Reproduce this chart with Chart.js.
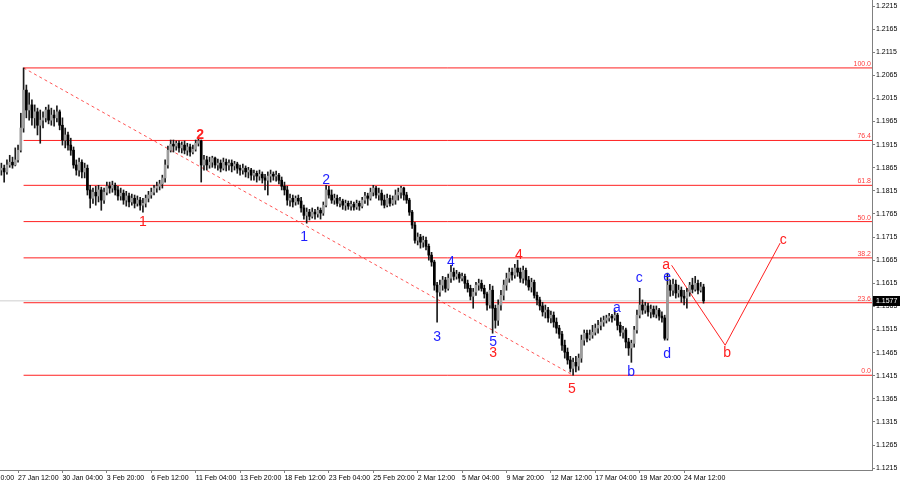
<!DOCTYPE html>
<html>
<head>
<meta charset="utf-8">
<script src="https://cdn.jsdelivr.net/npm/chart.js@4.4.1/dist/chart.umd.min.js"></script>
<style>
  html, body { margin: 0; padding: 0; background: #fff; }
  #wrap { width: 900px; height: 485px; }
</style>
</head>
<body>
<div id="wrap"><canvas id="waves"></canvas></div>
<script>
// H4 candles, one per bar index
const opens = [
  1.1860,1.1864,1.1856,1.1871,1.1877,1.1871,1.1882,1.1903,1.1951,1.2033,
  1.1990,1.2001,1.1973,1.1986,1.1957,1.1968,1.1973,1.1990,1.1968,1.1979,
  1.1973,1.1986,1.1957,1.1925,1.1936,1.1914,1.1903,1.1871,1.1860,1.1877,
  1.1856,1.1864,1.1817,1.1799,1.1812,1.1804,1.1817,1.1795,1.1812,1.1825,
  1.1821,1.1827,1.1817,1.1804,1.1810,1.1795,1.1804,1.1791,1.1799,1.1788,
  1.1795,1.1784,1.1788,1.1799,1.1806,1.1812,1.1821,1.1825,1.1830,1.1843,
  1.1871,1.1903,1.1916,1.1912,1.1918,1.1908,1.1914,1.1903,1.1910,1.1899,
  1.1905,1.1918,1.1923,1.1871,1.1882,1.1871,1.1877,1.1886,1.1871,1.1875,
  1.1864,1.1877,1.1871,1.1875,1.1869,1.1873,1.1864,1.1860,1.1864,1.1856,
  1.1860,1.1849,1.1853,1.1847,1.1851,1.1843,1.1838,1.1847,1.1851,1.1847,
  1.1849,1.1838,1.1825,1.1817,1.1795,1.1799,1.1791,1.1799,1.1793,1.1778,
  1.1762,1.1769,1.1760,1.1769,1.1765,1.1773,1.1767,1.1784,1.1817,1.1806,
  1.1795,1.1799,1.1788,1.1793,1.1784,1.1788,1.1782,1.1786,1.1780,1.1788,
  1.1782,1.1795,1.1804,1.1799,1.1812,1.1821,1.1806,1.1810,1.1795,1.1784,
  1.1799,1.1788,1.1795,1.1806,1.1812,1.1821,1.1806,1.1795,1.1769,1.1741,
  1.1708,1.1715,1.1704,1.1708,1.1695,1.1676,1.1661,1.1611,1.1596,1.1611,
  1.1622,1.1604,1.1626,1.1639,1.1630,1.1635,1.1626,1.1630,1.1615,1.1604,
  1.1587,1.1596,1.1611,1.1615,1.1604,1.1592,1.1568,1.1600,1.1561,1.1535,
  1.1568,1.1589,1.1611,1.1626,1.1639,1.1633,1.1648,1.1639,1.1626,1.1643,
  1.1622,1.1607,1.1617,1.1589,1.1579,1.1566,1.1553,1.1557,1.1540,1.1546,
  1.1531,1.1518,1.1505,1.1481,1.1466,1.1449,1.1431,1.1444,1.1436,1.1453,
  1.1492,1.1507,1.1496,1.1503,1.1509,1.1518,1.1524,1.1531,1.1535,1.1540,
  1.1544,1.1540,1.1546,1.1524,1.1509,1.1514,1.1488,1.1475,1.1485,1.1514,
  1.1546,1.1568,1.1557,1.1566,1.1553,1.1559,1.1548,1.1557,1.1544,1.1540,
  1.1496,1.1611,1.1600,1.1613,1.1594,1.1600,1.1587,1.1583,1.1596,1.1611,
  1.1602,1.1615,1.1600,1.1607
];
const highs = [
  1.1875,1.1871,1.1882,1.1892,1.1888,1.1908,1.1914,1.1983,1.2081,1.2044,
  1.2027,1.2012,1.2001,1.1994,1.1990,1.1986,1.1996,1.2001,1.1994,1.1990,
  1.1999,1.1990,1.1973,1.1951,1.1942,1.1929,1.1910,1.1882,1.1886,1.1882,
  1.1875,1.1871,1.1827,1.1821,1.1825,1.1827,1.1823,1.1821,1.1834,1.1834,
  1.1836,1.1832,1.1825,1.1821,1.1817,1.1814,1.1810,1.1808,1.1806,1.1804,
  1.1801,1.1799,1.1806,1.1814,1.1821,1.1827,1.1834,1.1838,1.1849,1.1882,
  1.1912,1.1925,1.1925,1.1923,1.1923,1.1921,1.1923,1.1918,1.1916,1.1914,
  1.1925,1.1927,1.1925,1.1892,1.1890,1.1888,1.1890,1.1888,1.1884,1.1882,
  1.1886,1.1884,1.1882,1.1882,1.1879,1.1877,1.1871,1.1873,1.1869,1.1866,
  1.1864,1.1860,1.1858,1.1860,1.1856,1.1851,1.1856,1.1860,1.1856,1.1858,
  1.1853,1.1845,1.1834,1.1825,1.1808,1.1806,1.1804,1.1806,1.1801,1.1784,
  1.1778,1.1775,1.1778,1.1775,1.1780,1.1778,1.1791,1.1827,1.1825,1.1817,
  1.1808,1.1806,1.1801,1.1797,1.1795,1.1793,1.1793,1.1791,1.1795,1.1793,
  1.1801,1.1812,1.1810,1.1821,1.1827,1.1825,1.1821,1.1817,1.1806,1.1808,
  1.1806,1.1804,1.1817,1.1821,1.1825,1.1823,1.1812,1.1799,1.1773,1.1747,
  1.1724,1.1721,1.1717,1.1715,1.1700,1.1682,1.1665,1.1617,1.1622,1.1630,
  1.1628,1.1635,1.1654,1.1648,1.1643,1.1639,1.1637,1.1635,1.1622,1.1611,
  1.1604,1.1617,1.1624,1.1622,1.1611,1.1596,1.1613,1.1609,1.1568,1.1579,
  1.1600,1.1622,1.1637,1.1648,1.1648,1.1656,1.1665,1.1648,1.1652,1.1648,
  1.1630,1.1626,1.1622,1.1596,1.1585,1.1574,1.1568,1.1563,1.1555,1.1553,
  1.1540,1.1524,1.1511,1.1492,1.1475,1.1457,1.1453,1.1457,1.1462,1.1503,
  1.1514,1.1514,1.1514,1.1524,1.1527,1.1535,1.1540,1.1544,1.1546,1.1550,
  1.1548,1.1557,1.1550,1.1531,1.1522,1.1518,1.1496,1.1492,1.1522,1.1557,
  1.1604,1.1579,1.1574,1.1572,1.1568,1.1566,1.1566,1.1561,1.1553,1.1546,
  1.1637,1.1622,1.1624,1.1622,1.1611,1.1607,1.1600,1.1604,1.1617,1.1626,
  1.1630,1.1622,1.1617,1.1613
];
const lows = [
  1.1849,1.1834,1.1851,1.1866,1.1864,1.1869,1.1877,1.1899,1.1942,1.1973,
  1.1968,1.1957,1.1951,1.1936,1.1918,1.1951,1.1964,1.1960,1.1957,1.1955,
  1.1964,1.1947,1.1914,1.1908,1.1903,1.1892,1.1864,1.1849,1.1847,1.1843,
  1.1843,1.1806,1.1778,1.1788,1.1784,1.1791,1.1773,1.1788,1.1806,1.1810,
  1.1812,1.1806,1.1795,1.1795,1.1786,1.1782,1.1780,1.1784,1.1778,1.1782,
  1.1773,1.1769,1.1780,1.1791,1.1799,1.1806,1.1812,1.1817,1.1821,1.1834,
  1.1864,1.1899,1.1899,1.1903,1.1899,1.1897,1.1895,1.1892,1.1890,1.1895,
  1.1901,1.1912,1.1834,1.1860,1.1860,1.1864,1.1866,1.1864,1.1860,1.1856,
  1.1860,1.1858,1.1860,1.1856,1.1860,1.1853,1.1849,1.1851,1.1845,1.1843,
  1.1838,1.1838,1.1834,1.1838,1.1832,1.1817,1.1806,1.1834,1.1838,1.1836,
  1.1830,1.1817,1.1806,1.1784,1.1782,1.1780,1.1784,1.1786,1.1769,1.1754,
  1.1745,1.1752,1.1756,1.1754,1.1758,1.1754,1.1762,1.1780,1.1799,1.1788,
  1.1786,1.1782,1.1780,1.1775,1.1773,1.1775,1.1773,1.1773,1.1775,1.1773,
  1.1778,1.1788,1.1784,1.1795,1.1804,1.1799,1.1795,1.1784,1.1778,1.1780,
  1.1782,1.1784,1.1786,1.1795,1.1799,1.1795,1.1788,1.1762,1.1734,1.1702,
  1.1698,1.1691,1.1693,1.1687,1.1665,1.1652,1.1600,1.1531,1.1587,1.1600,
  1.1596,1.1600,1.1617,1.1622,1.1624,1.1617,1.1620,1.1604,1.1596,1.1579,
  1.1561,1.1589,1.1600,1.1598,1.1583,1.1557,1.1561,1.1507,1.1518,1.1524,
  1.1557,1.1579,1.1600,1.1617,1.1622,1.1626,1.1630,1.1617,1.1615,1.1611,
  1.1600,1.1596,1.1583,1.1568,1.1557,1.1544,1.1540,1.1531,1.1529,1.1520,
  1.1507,1.1496,1.1470,1.1453,1.1440,1.1423,1.1416,1.1423,1.1427,1.1444,
  1.1481,1.1488,1.1492,1.1496,1.1503,1.1507,1.1514,1.1522,1.1529,1.1533,
  1.1531,1.1535,1.1514,1.1501,1.1496,1.1475,1.1459,1.1444,1.1477,1.1507,
  1.1540,1.1548,1.1550,1.1544,1.1540,1.1542,1.1540,1.1535,1.1531,1.1492,
  1.1492,1.1587,1.1589,1.1583,1.1585,1.1574,1.1568,1.1561,1.1587,1.1594,
  1.1598,1.1592,1.1596,1.1572
];
const closes = [
  1.1864,1.1856,1.1871,1.1877,1.1871,1.1882,1.1903,1.1951,1.2033,1.1990,
  1.2001,1.1973,1.1986,1.1957,1.1968,1.1973,1.1990,1.1968,1.1979,1.1973,
  1.1986,1.1957,1.1925,1.1936,1.1914,1.1903,1.1871,1.1860,1.1877,1.1856,
  1.1864,1.1817,1.1799,1.1812,1.1804,1.1817,1.1795,1.1812,1.1825,1.1821,
  1.1827,1.1817,1.1804,1.1810,1.1795,1.1804,1.1791,1.1799,1.1788,1.1795,
  1.1784,1.1788,1.1799,1.1806,1.1812,1.1821,1.1825,1.1830,1.1843,1.1871,
  1.1903,1.1916,1.1912,1.1918,1.1908,1.1914,1.1903,1.1910,1.1899,1.1905,
  1.1918,1.1923,1.1871,1.1882,1.1871,1.1877,1.1886,1.1871,1.1875,1.1864,
  1.1877,1.1871,1.1875,1.1869,1.1873,1.1864,1.1860,1.1864,1.1856,1.1860,
  1.1849,1.1853,1.1847,1.1851,1.1843,1.1838,1.1847,1.1851,1.1847,1.1849,
  1.1838,1.1825,1.1817,1.1795,1.1799,1.1791,1.1799,1.1793,1.1778,1.1762,
  1.1769,1.1760,1.1769,1.1765,1.1773,1.1767,1.1784,1.1817,1.1806,1.1795,
  1.1799,1.1788,1.1793,1.1784,1.1788,1.1782,1.1786,1.1780,1.1788,1.1782,
  1.1795,1.1804,1.1799,1.1812,1.1821,1.1806,1.1810,1.1795,1.1784,1.1799,
  1.1788,1.1795,1.1806,1.1812,1.1821,1.1806,1.1795,1.1769,1.1741,1.1708,
  1.1715,1.1704,1.1708,1.1695,1.1676,1.1661,1.1611,1.1596,1.1611,1.1622,
  1.1604,1.1626,1.1639,1.1630,1.1635,1.1626,1.1630,1.1615,1.1604,1.1587,
  1.1596,1.1611,1.1615,1.1604,1.1592,1.1568,1.1600,1.1561,1.1535,1.1568,
  1.1589,1.1611,1.1626,1.1639,1.1633,1.1648,1.1639,1.1626,1.1643,1.1622,
  1.1607,1.1617,1.1589,1.1579,1.1566,1.1553,1.1557,1.1540,1.1546,1.1531,
  1.1518,1.1505,1.1481,1.1466,1.1449,1.1431,1.1444,1.1436,1.1453,1.1492,
  1.1507,1.1496,1.1503,1.1509,1.1518,1.1524,1.1531,1.1535,1.1540,1.1544,
  1.1540,1.1546,1.1524,1.1509,1.1514,1.1488,1.1475,1.1485,1.1514,1.1546,
  1.1568,1.1557,1.1566,1.1553,1.1559,1.1548,1.1557,1.1544,1.1540,1.1496,
  1.1611,1.1600,1.1613,1.1594,1.1600,1.1587,1.1583,1.1596,1.1611,1.1602,
  1.1615,1.1600,1.1607,1.1577
];

// time axis labels (bar index -> label)
const tickBars = [-10, 6, 22, 38, 54, 70, 86, 102, 118, 134, 150, 166, 182, 198, 214, 230, 246];
const tickLabels = ['22 Jan 20:00', '27 Jan 12:00', '30 Jan 04:00', '3 Feb 20:00', '6 Feb 12:00',
  '11 Feb 04:00', '13 Feb 20:00', '18 Feb 12:00', '23 Feb 04:00', '25 Feb 20:00', '2 Mar 12:00',
  '5 Mar 04:00', '9 Mar 20:00', '12 Mar 12:00', '17 Mar 04:00', '19 Mar 20:00', '24 Mar 12:00'];
const priceTicks = [1.1215, 1.1265, 1.1315, 1.1365, 1.1415, 1.1465, 1.1515, 1.1565, 1.1615, 1.1665,
  1.1715, 1.1765, 1.1815, 1.1865, 1.1915, 1.1965, 1.2015, 1.2065, 1.2115, 1.2165, 1.2215];

// fibonacci grid between the January high and the March low
const fibRatios = [0, 23.6, 38.2, 50, 61.8, 76.4, 100];
const fibHighBar = 8, fibHigh = 1.2081;
const fibLowBar = 206, fibLow = 1.1416;

// forecast a-b-c path
const projBars = [241.5, 260.8, 280.6];
const projPrices = [1.1654, 1.1481, 1.1702];

// wave marks
const waveText   = ['1', '2', '1', '2', '3', '4', '5', '3', '4', '5', 'a', 'b', 'c', 'a', 'e', 'd', 'b', 'c'];
const waveDegree = ['major', 'major', 'minor', 'minor', 'minor', 'minor', 'minor', 'major', 'major', 'major',
  'minor', 'minor', 'minor', 'major', 'minor', 'minor', 'major', 'major'];
const waveBars   = [51.0, 71.6, 109.1, 117.0, 157.0, 162.0, 177.2, 177.2, 186.5, 205.6,
  221.8, 226.9, 229.8, 239.5, 239.9, 239.9, 261.5, 281.7];
const wavePrices = [1.1747, 1.1936, 1.1715, 1.1838, 1.1498, 1.1661, 1.1488, 1.1464, 1.1676, 1.1386,
  1.1561, 1.1423, 1.1626, 1.1654, 1.1628, 1.1462, 1.1464, 1.1708];

const X_MIN = -0.5, X_MAX = 313.7;
const RED = '#ff2020', BLUE = '#1e1eff';
const lastPrice = closes[closes.length - 1];

Chart.defaults.font.family = '"Liberation Sans", Arial, sans-serif';

const idx = closes.map((c, i) => i);
const bodyColors = idx.map(i => closes[i] >= opens[i] ? '#9c9c9c' : '#000000');

const fibSets = fibRatios.map(r => {
  const p = fibLow + (fibHigh - fibLow) * r / 100;
  return {
    type: 'line', data: [{x: fibHighBar, y: p}, {x: X_MAX, y: p}],
    borderColor: RED, borderWidth: 1, pointRadius: 0, order: 4
  };
});

const overlay = {
  id: 'overlay',
  afterDraw(chart) {
    const {ctx, chartArea, scales: {x, y}} = chart;
    ctx.save();
    // fib level captions
    ctx.font = '7px "Liberation Sans", Arial';
    ctx.fillStyle = '#ff4040';
    ctx.textAlign = 'right';
    ctx.textBaseline = 'bottom';
    fibRatios.forEach(r => {
      const p = fibLow + (fibHigh - fibLow) * r / 100;
      ctx.fillText(r.toFixed(1), chartArea.right - 1, y.getPixelForValue(p) - 0.5);
    });
    // wave labels
    ctx.textAlign = 'center';
    ctx.textBaseline = 'middle';
    waveText.forEach((t, i) => {
      const major = waveDegree[i] === 'major';
      ctx.font = (major && t === '2' ? 'bold ' : '') + '14px "Liberation Sans", Arial';
      ctx.fillStyle = major ? RED : BLUE;
      ctx.fillText(t, x.getPixelForValue(waveBars[i]), y.getPixelForValue(wavePrices[i]));
    });
    // current price tag
    const py = Math.round(y.getPixelForValue(lastPrice));
    ctx.fillStyle = '#000';
    ctx.fillRect(chartArea.right + 1, py - 5, 27, 10);
    ctx.fillStyle = '#fff';
    ctx.font = '7px "Liberation Sans", Arial';
    ctx.textAlign = 'left';
    ctx.fillText(lastPrice.toFixed(4), chartArea.right + 4, py + 0.5);
    ctx.restore();
  }
};

new Chart(document.getElementById('waves'), {
  type: 'bar',
  data: {
    datasets: [
      {
        label: 'body', data: idx.map(i => ({x: i, y: [opens[i], closes[i]]})),
        backgroundColor: bodyColors, barThickness: 2, minBarLength: 1, grouped: false, order: 1
      },
      {
        label: 'wick', data: idx.map(i => ({x: i, y: [lows[i], highs[i]]})),
        backgroundColor: '#1a1a1a', barThickness: 1, grouped: false, order: 2
      },
      {
        type: 'line', data: [{x: X_MIN, y: lastPrice}, {x: X_MAX, y: lastPrice}],
        borderColor: '#cfcfcf', borderWidth: 1, pointRadius: 0, order: 5
      },
      ...fibSets,
      {
        type: 'line', data: [{x: fibHighBar, y: fibHigh}, {x: fibLowBar, y: fibLow}],
        borderColor: 'rgba(255,40,40,0.8)', borderWidth: 1, borderDash: [3, 3], pointRadius: 0, order: 3
      },
      {
        type: 'line', data: projBars.map((b, i) => ({x: b, y: projPrices[i]})),
        borderColor: RED, borderWidth: 1, pointRadius: 0, tension: 0, order: 3
      }
    ]
  },
  options: {
    responsive: true,
    maintainAspectRatio: false,
    animation: false,
    layout: { padding: 0 },
    plugins: { legend: { display: false }, tooltip: { enabled: false } },
    scales: {
      x: {
        type: 'linear', min: X_MIN, max: X_MAX, offset: false,
        grid: { display: true, drawOnChartArea: false, offset: false, tickLength: 3, color: '#808080' },
        border: { color: '#808080' },
        ticks: {
          autoSkip: false, maxRotation: 0, align: 'start', padding: 1,
          font: { size: 7 }, color: '#000',
          callback: (v, i) => tickLabels[i]
        },
        afterBuildTicks: s => { s.ticks = tickBars.map(v => ({value: v})); },
        afterFit: s => { s.height = 15; s.paddingLeft = 0; s.paddingRight = 0; }
      },
      y: {
        type: 'linear', position: 'right', min: 1.1211, max: 1.2228, beginAtZero: false,
        grid: { display: true, drawOnChartArea: false, tickLength: 3, color: '#808080' },
        border: { color: '#808080' },
        ticks: { padding: 1, font: { size: 7 }, color: '#000', callback: v => v.toFixed(4) },
        afterBuildTicks: s => { s.ticks = priceTicks.map(v => ({value: v})); },
        afterFit: s => { s.width = 28; s.paddingTop = 0; s.paddingBottom = 0; }
      }
    }
  },
  plugins: [overlay]
});
</script>
</body>
</html>
